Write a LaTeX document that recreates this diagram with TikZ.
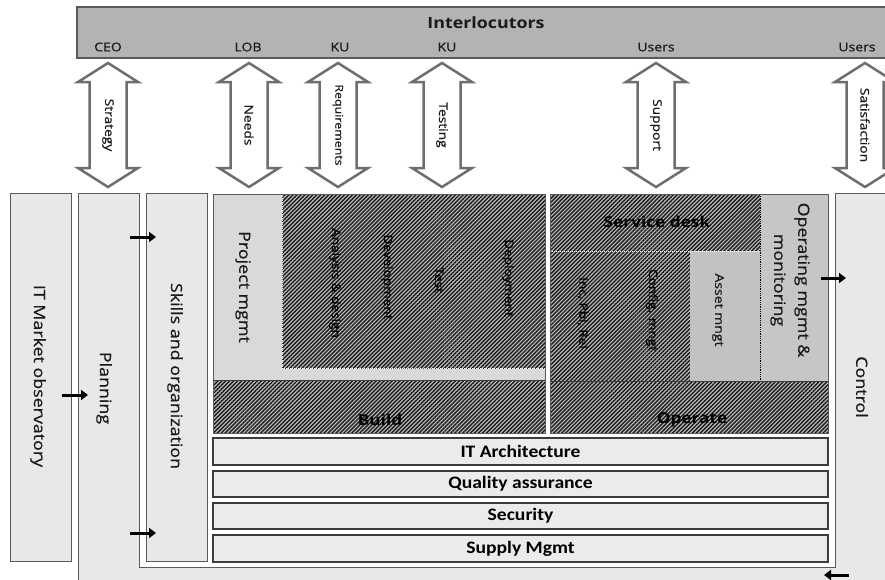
\documentclass[tikz,border=0pt]{standalone}
\usepackage{fontspec}
\setmainfont[FakeStretch=1.15]{Open Sans}
\newfontfamily\medfont[FakeStretch=1.15,FakeBold=0.6]{Open Sans}
\newfontfamily\barfont[FakeStretch=1.12]{Carlito}
\usetikzlibrary{patterns.meta,arrows.meta}
\definecolor{boxfill}{HTML}{E8E8E8}
\definecolor{barfill}{HTML}{EBEBEB}
\definecolor{pmfill}{HTML}{D9D9D9}
\definecolor{opfill}{HTML}{C6C6C6}
\definecolor{assetfill}{HTML}{C2C2C2}
\definecolor{topfill}{HTML}{B3B3B3}
\definecolor{edge}{HTML}{5A5A5A}
\definecolor{darkedge}{HTML}{3C3C3C}
\definecolor{arrowgray}{HTML}{6E6E6E}
\definecolor{hatchbg}{HTML}{BDBDBD}
\definecolor{hatchline}{HTML}{1A1A1A}
\definecolor{txt}{HTML}{1A1A1A}
\tikzset{
  box/.style={draw=edge, line width=1pt, fill=boxfill},
  barbox/.style={draw=darkedge, line width=1.3pt, fill=barfill},
  hatch/.style={preaction={fill=hatchbg}, pattern={Lines[angle=45,distance=2.8pt,line width=1.4pt]}, pattern color=hatchline},
  biglabel/.style={rotate=-90, font=\medfont\fontsize{15.5}{24}\selectfont, text=txt, align=center, inner sep=0pt},
  smalllabel/.style={rotate=-90, font=\medfont\fontsize{11.8}{14}\selectfont, text=black, inner sep=0pt},
  arrlabel/.style={rotate=-90, font=\medfont\fontsize{12}{14}\selectfont, text=txt, inner sep=0pt},
  toplabel/.style={font=\medfont\fontsize{12.2}{15}\selectfont, text=txt, inner sep=0pt},
  boldlabel/.style={font=\bfseries\fontsize{15}{18}\selectfont, text=black, inner sep=0pt},
  barlabel/.style={font=\barfont\bfseries\fontsize{17.5}{20}\selectfont, text=black, inner sep=0pt},
  flow/.style={line width=3pt, -{Triangle[length=7pt,width=10pt]}, black},
  dblarr/.style={draw=arrowgray, line width=2.5pt, fill=white, line join=miter},
}
\newcommand{\dblarrow}[4][]{%
  \draw[dblarr] (#2,63) -- (#2+30,82) -- (#2+18.5,82) -- (#2+18.5,168) -- (#2+30,168)
     -- (#2,187) -- (#2-30,168) -- (#2-18.5,168) -- (#2-18.5,82) -- (#2-30,82) -- cycle;
  \node[arrlabel,#1] (#3) at (#2,125) {#4};}
\begin{document}
\begin{tikzpicture}[x=1pt,y=-1pt]
\clip (0,0) rectangle (885,579);
\fill[white] (0,0) rectangle (885,579);
% top bar
\draw[draw=edge, line width=2pt, fill=topfill] (77,7) rectangle (900,58);
\node[font=\bfseries\fontsize{15.5}{19}\selectfont, text=txt, inner sep=0pt] (inter) at (486,23) {Interlocutors};
\node[toplabel] (ceo) at (108,47) {CEO};
\node[toplabel] (lob) at (248,47) {LOB};
\node[toplabel] (ku1) at (340,47) {KU};
\node[toplabel] (ku2) at (447,47) {KU};
\node[toplabel] (users1) at (656,47) {Users};
\node[toplabel] (users2) at (857,47) {Users};
% double arrows
\dblarrow{108}{strategy}{Strategy}
\dblarrow{249}{needs}{Needs}
\dblarrow[font=\medfont\fontsize{10.8}{13}\selectfont]{338}{req}{Requirements}
\dblarrow{442}{testing}{Testing}
\dblarrow{656}{support}{Support}
\dblarrow{865}{satis}{Satisfaction}
% U shape planning / control
\draw[box] (78,600) -- (78,193) -- (139,193) -- (139,567) -- (835,567) -- (835,193) -- (900,193) -- (900,600) -- cycle;
% side boxes
\draw[box] (10,193) rectangle (71,561);
\draw[box] (146,193) rectangle (207,561);
% build
\fill[pmfill] (213,194) rectangle (545,380);
\path[hatch] (282,194) rectangle (545,368);
\draw[white, line width=1pt, densely dotted] (282,194) -- (282,368) -- (545,368);
\path[hatch] (213,380) rectangle (545,433);
\draw[darkedge, line width=1pt] (213,380) -- (545,380);
\draw[edge, line width=1pt] (213,194) rectangle (545,433);
% operate
\path[hatch] (550,194) rectangle (760,251);
\path[hatch] (550,251) rectangle (690,381);
\fill[assetfill] (690,251) rectangle (760,381);
\fill[opfill] (760,194) rectangle (828,381);
\draw[white, line width=1pt, densely dotted] (550,251) -- (760,251);
\draw[black, line width=0.8pt, densely dotted] (760,194) -- (760,381);
\path[hatch] (550,381) rectangle (828,433);
\draw[darkedge, line width=1pt] (550,381) -- (828,381);
\draw[edge, line width=1pt] (550,194) rectangle (828,433);
% bars
\draw[barbox] (213,438) rectangle (828,465);
\draw[barbox] (213,471) rectangle (828,497);
\draw[barbox] (213,503) rectangle (828,529);
\draw[barbox] (213,535) rectangle (828,562);
\node[barlabel] (itarch) at (520.5,451.5) {IT Architecture};
\node[barlabel] (qa) at (520.5,484) {Quality assurance};
\node[barlabel] (sec) at (520.5,516) {Security};
\node[barlabel] (supply) at (520.5,548.5) {Supply Mgmt};
% big labels
\node[biglabel] (itm) at (38,376) {IT Market observatory};
\node[biglabel] (plan) at (104,388) {Planning};
\node[biglabel] (skills) at (175,376) {Skills and organization};
\node[biglabel] (ctrl) at (862,387) {Control};
\node[biglabel] (pm) at (243,287) {Project mgmt};
\node[biglabel] (opm) at (790,280) {Operating mgmt \&\\monitoring};
% hatched labels
\node[smalllabel] (ad) at (335,283) {Analysis \& design};
\node[smalllabel] (dev) at (387,277) {Development};
\node[smalllabel] (test) at (439,280) {Test};
\node[smalllabel] (dep) at (508,278) {Deployment};
\node[smalllabel] (inc) at (583,313) {Inc, Pbl, Rel};
\node[smalllabel] (cfg) at (652,310) {Config. mngt};
\node[smalllabel, text=txt, font=\medfont\fontsize{12.2}{14}\selectfont] (asset) at (718,310) {Asset mngt};
\node[boldlabel] (sd) at (657,222) {Service desk};
\node[boldlabel] (build) at (380,420) {Build};
\node[boldlabel] (oper) at (692,420) {Operate};
% flow arrows
\coordinate (a1s) at (62,395); \coordinate (a1e) at (88,395);
\coordinate (a2s) at (130,237); \coordinate (a2e) at (156,237);
\coordinate (a3s) at (130,533); \coordinate (a3e) at (156,533);
\coordinate (a4s) at (821,278); \coordinate (a4e) at (846,278);
\coordinate (a5s) at (849,575); \coordinate (a5e) at (824,575);
\draw[flow] (a1s) -- (a1e);
\draw[flow] (a2s) -- (a2e);
\draw[flow] (a3s) -- (a3e);
\draw[flow] (a4s) -- (a4e);
\draw[flow] (a5s) -- (a5e);
\end{tikzpicture}
\end{document}
